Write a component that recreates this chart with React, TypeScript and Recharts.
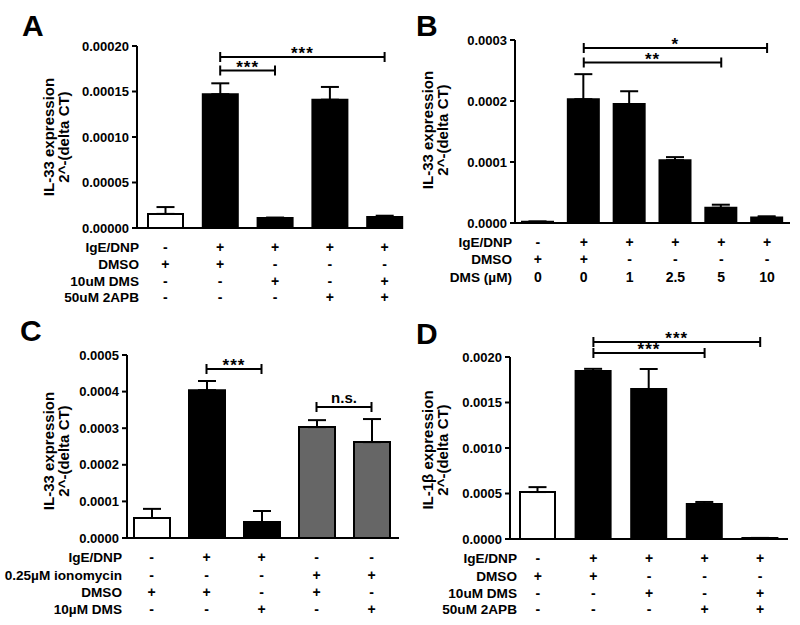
import React from 'react'
import { BarChart, Bar, XAxis, YAxis, Cell, ErrorBar, ReferenceLine } from 'recharts'

const FONT = '"Liberation Sans", Arial, Helvetica, sans-serif'
const WHITE = '#ffffff'
const BLACK = '#000000'
const GREY = '#666666'

// Panel A
const catsA = ['a1', 'a2', 'a3', 'a4', 'a5']
const valuesA = [0.0000155, 0.000147, 0.000011, 0.000141, 0.000012]
const errA = [0.0000075, 0.000012, 0.0000005, 0.000014, 0.0000015]
const ticksA = [0, 0.00005, 0.0001, 0.00015, 0.0002]
const rowLabelsA = ['IgE/DNP', 'DMSO', '10uM DMS', '50uM 2APB']
const signsA = [
  ['-', '+', '+', '+', '+'],
  ['+', '+', '-', '-', '-'],
  ['-', '-', '+', '-', '+'],
  ['-', '-', '-', '+', '+'],
]
const bracketsA = [
  { from: 'a2', to: 'a3', y: 0.000173, text: '***' },
  { from: 'a2', to: 'a5', y: 0.000188, text: '***' },
]

// Panel B
const catsB = ['b1', 'b2', 'b3', 'b4', 'b5', 'b6']
const valuesB = [0.000002, 0.000203, 0.000195, 0.000103, 0.000025, 0.000009]
const errB = [0.0000005, 0.000041, 0.000021, 0.000005, 0.000005, 0.000002]
const ticksB = [0, 0.0001, 0.0002, 0.0003]
const rowLabelsB = ['IgE/DNP', 'DMSO', 'DMS (\u00b5M)']
const signsB = [
  ['-', '+', '+', '+', '+', '+'],
  ['+', '+', '-', '-', '-', '-'],
  ['0', '0', '1', '2.5', '5', '10'],
]
const bracketsB = [
  { from: 'b2', to: 'b5', y: 0.000263, text: '**' },
  { from: 'b2', to: 'b6', y: 0.000287, text: '*' },
]

// Panel C
const catsC = ['c1', 'c2', 'c3', 'c4', 'c5']
const valuesC = [0.0000546, 0.000404, 0.0000437, 0.000303, 0.000262]
const errC = [0.000025, 0.000025, 0.00003, 0.000019, 0.000063]
const ticksC = [0, 0.0001, 0.0002, 0.0003, 0.0004, 0.0005]
const rowLabelsC = ['IgE/DNP', '0.25\u00b5M ionomycin', 'DMSO', '10\u00b5M  DMS']
const signsC = [
  ['-', '+', '+', '-', '-'],
  ['-', '-', '-', '+', '+'],
  ['+', '+', '-', '+', '-'],
  ['-', '-', '+', '-', '+'],
]
const bracketsC = [
  { from: 'c2', to: 'c3', y: 0.000462, text: '***' },
  { from: 'c4', to: 'c5', y: 0.000358, text: 'n.s.' },
]

// Panel D
const catsD = ['d1', 'd2', 'd3', 'd4', 'd5']
const valuesD = [0.000516, 0.001846, 0.001648, 0.000385, 0.00001]
const errD = [0.000054, 0.000024, 0.00022, 0.000022, 0.000002]
const ticksD = [0, 0.0005, 0.001, 0.0015, 0.002]
const rowLabelsD = ['IgE/DNP', 'DMSO', '10uM DMS', '50uM 2APB']
const signsD = [
  ['-', '+', '+', '+', '+'],
  ['+', '+', '-', '-', '-'],
  ['-', '-', '+', '-', '+'],
  ['-', '-', '-', '+', '+'],
]
const bracketsD = [
  { from: 'd2', to: 'd4', y: 0.002044, text: '***' },
  { from: 'd2', to: 'd5', y: 0.002165, text: '***' },
]

const textStyle = { fontFamily: FONT, fontWeight: 700, fontSize: 13, fill: BLACK }

function RowTick(props: any) {
  const { x, y, payload, cats, signs, labels, labelRight, rows } = props
  const i = cats.indexOf(payload.value)
  return (
    <g>
      {signs.map((row: string[], r: number) => (
        <text key={r} x={x} y={y + rows[r] + 5} textAnchor="middle" style={{ ...textStyle, fontSize: 14 }}>
          {row[i]}
        </text>
      ))}
      {i === 0 &&
        labels.map((lab: string, r: number) => (
          <text key={'l' + r} x={labelRight} y={y + rows[r] + 5} textAnchor="end" style={{ ...textStyle, fontSize: 13.6 }}>
            {lab}
          </text>
        ))}
    </g>
  )
}

// two-line rotated axis title, x values are the text baselines
function YTitle(props: any) {
  const { lx1, lx2, lcy, line1 } = props
  const st = { ...textStyle, fontSize: 15 }
  return (
    <g>
      <text x={lx1} y={lcy} transform={`rotate(-90, ${lx1}, ${lcy})`} textAnchor="middle" style={st}>
        {line1}
      </text>
      <text x={lx2} y={lcy} transform={`rotate(-90, ${lx2}, ${lcy})`} textAnchor="middle" style={st}>
        2^-(delta CT)
      </text>
    </g>
  )
}

function BracketShape(props: any) {
  const x1 = Number(props.x1)
  const x2 = Number(props.x2)
  const y = Number(props.y1)
  const isStar = props.text.indexOf('*') >= 0
  return (
    <g>
      <path d={`M${x1},${y - 5}V${y + 5}M${x1},${y}H${x2}M${x2},${y - 5}V${y + 5}`} stroke={BLACK} strokeWidth={2} fill="none" />
      <text
        x={(x1 + x2) / 2}
        y={isStar ? y + 2 : y - 4}
        textAnchor="middle"
        style={{ ...textStyle, fontSize: isStar ? 17 : 15, letterSpacing: isStar ? 1 : 0 }}
      >
        {props.text}
      </text>
    </g>
  )
}

function Panel(props: any) {
  const { cats, values, errs, fills, ticks, digits, title, rowLabels, signs, brackets, L } = props
  const data = cats.map((name: string, i: number) => ({ name, value: values[i], err: [0, errs[i]] }))
  return (
    <div style={{ position: 'absolute', left: L.left, top: L.top }}>
      <BarChart
        width={L.width}
        height={L.height}
        data={data}
        margin={{ top: L.marginTop, right: L.marginRight, bottom: 0, left: 0 }}
      >
        <XAxis
          dataKey="name"
          type="category"
          height={L.xAxisHeight}
          interval={0}
          padding={{ left: L.padLeft, right: L.padRight }}
          axisLine={{ stroke: BLACK, strokeWidth: 2 }}
          tickLine={false}
          tickSize={0}
          tickMargin={0}
          tick={(p: any) => (
            <RowTick {...p} cats={cats} signs={signs} labels={rowLabels} labelRight={L.labelRight} rows={L.rows} />
          )}
        />
        <YAxis
          type="number"
          domain={[0, ticks[ticks.length - 1]]}
          ticks={ticks}
          width={L.yAxisWidth}
          tickFormatter={(v: number) => v.toFixed(digits)}
          axisLine={{ stroke: BLACK, strokeWidth: 2 }}
          tickLine={{ stroke: BLACK, strokeWidth: 2 }}
          tickSize={5}
          tickMargin={3}
          tick={textStyle}
          label={<YTitle lx1={L.titleX[0]} lx2={L.titleX[1]} lcy={L.titleY} line1={title} />}
        />
        <Bar dataKey="value" barSize={L.barSize} stroke={BLACK} strokeWidth={2} isAnimationActive={false}>
          {data.map((_: any, i: number) => (
            <Cell key={i} fill={fills[i]} />
          ))}
          <ErrorBar dataKey="err" direction="y" width={9} stroke={BLACK} strokeWidth={2} isAnimationActive={false} />
        </Bar>
        {brackets.map((b: any, i: number) => (
          <ReferenceLine
            key={i}
            segment={[
              { x: b.from, y: b.y },
              { x: b.to, y: b.y },
            ]}
            ifOverflow="visible"
            shape={(p: any) => <BracketShape {...p} text={b.text} />}
          />
        ))}
      </BarChart>
    </div>
  )
}

const letterStyle = {
  position: 'absolute' as const,
  fontFamily: FONT,
  fontWeight: 700,
  fontSize: 30,
  lineHeight: '30px',
  color: BLACK,
}

export default function App() {
  return (
    <div style={{ position: 'absolute', left: 0, top: 0, width: 800, height: 625, background: WHITE, overflow: 'hidden' }}>
      <Panel
        cats={catsA}
        values={valuesA}
        errs={errA}
        fills={[WHITE, BLACK, BLACK, BLACK, BLACK]}
        ticks={ticksA}
        digits={5}
        title="IL-33 expression"
        rowLabels={rowLabelsA}
        signs={signsA}
        brackets={bracketsA}
        L={{
          left: 0, top: 0, width: 404, height: 310, marginTop: 46, marginRight: 1,
          yAxisWidth: 137, xAxisHeight: 82, padLeft: 1, padRight: -9, barSize: 35,
          labelRight: 139, rows: [19, 36, 53, 69], titleX: [54, 69], titleY: 137,
        }}
      />
      <Panel
        cats={catsB}
        values={valuesB}
        errs={errB}
        fills={[BLACK, BLACK, BLACK, BLACK, BLACK, BLACK]}
        ticks={ticksB}
        digits={4}
        title="IL-33 expression"
        rowLabels={rowLabelsB}
        signs={signsB}
        brackets={bracketsB}
        L={{
          left: 400, top: 0, width: 400, height: 310, marginTop: 40, marginRight: 10,
          yAxisWidth: 115, xAxisHeight: 87, padLeft: 0, padRight: 0, barSize: 31,
          labelRight: 112, rows: [19, 36, 54], titleX: [33, 48], titleY: 130,
        }}
      />
      <Panel
        cats={catsC}
        values={valuesC}
        errs={errC}
        fills={[WHITE, BLACK, BLACK, GREY, GREY]}
        ticks={ticksC}
        digits={4}
        title="IL-33 expression"
        rowLabels={rowLabelsC}
        signs={signsC}
        brackets={bracketsC}
        L={{
          left: 0, top: 310, width: 400, height: 315, marginTop: 45, marginRight: 1,
          yAxisWidth: 127, xAxisHeight: 87, padLeft: -3, padRight: 0, barSize: 36,
          labelRight: 122, rows: [19, 37, 54, 71], titleX: [54, 69], titleY: 141,
        }}
      />
      <Panel
        cats={catsD}
        values={valuesD}
        errs={errD}
        fills={[WHITE, BLACK, BLACK, BLACK, BLACK]}
        ticks={ticksD}
        digits={4}
        title={'IL-1\u03b2 expression'}
        rowLabels={rowLabelsD}
        signs={signsD}
        brackets={bracketsD}
        L={{
          left: 400, top: 310, width: 400, height: 315, marginTop: 47, marginRight: 12,
          yAxisWidth: 110, xAxisHeight: 86, padLeft: 0, padRight: 0, barSize: 35,
          labelRight: 117, rows: [19, 37, 54, 70], titleX: [33, 48], titleY: 140,
        }}
      />
      <div style={{ ...letterStyle, left: 22, top: 11 }}>A</div>
      <div style={{ ...letterStyle, left: 416, top: 11 }}>B</div>
      <div style={{ ...letterStyle, left: 20, top: 316 }}>C</div>
      <div style={{ ...letterStyle, left: 416, top: 319 }}>D</div>
    </div>
  )
}
